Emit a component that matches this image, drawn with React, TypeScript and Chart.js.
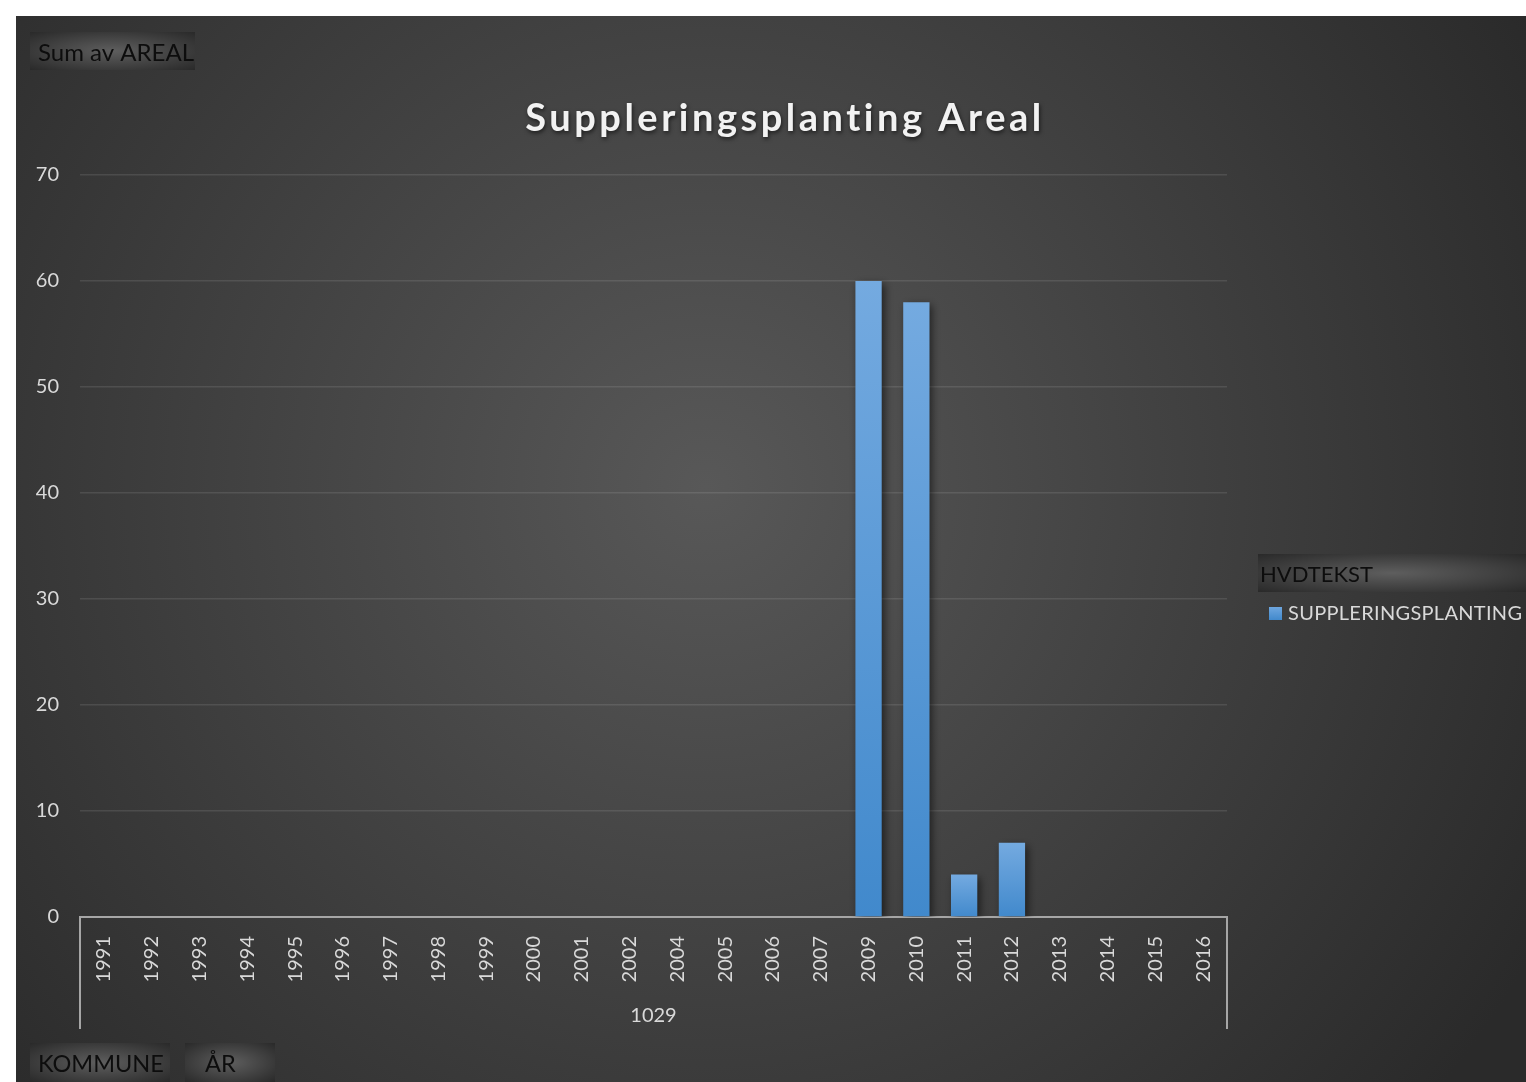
import React, { useEffect, useRef } from "react";
import { Chart, registerables } from "chart.js";
Chart.register(...registerables);

const years = ["1991","1992","1993","1994","1995","1996","1997","1998","1999","2000","2001","2002","2004","2005","2006","2007","2009","2010","2011","2012","2013","2014","2015","2016"];
const areal = [0,0,0,0,0,0,0,0,0,0,0,0,0,0,0,0,60,58,4,7,0,0,0,0];
const yTicks = [0,10,20,30,40,50,60,70];
const kommune = "1029";
const seriesName = "SUPPLERINGSPLANTING";
const chartTitle = "Suppleringsplanting Areal";
const valueField = "Sum av AREAL";
const axisFields = ["KOMMUNE", "ÅR"];
const legendField = "HVDTEKST";

const W = 1510;
const H = 1066;
const FONT = "Lato, 'Open Sans', sans-serif";

function fieldButton(ctx: CanvasRenderingContext2D, x: number, y: number, w: number, h: number, text: string, tx: number, size: number) {
  ctx.save();
  ctx.beginPath();
  ctx.rect(x, y, w, h);
  ctx.clip();
  const cx = x + w / 2, cy = y + h / 2;
  ctx.translate(cx, cy);
  ctx.scale(w / h, 1);
  const g = ctx.createRadialGradient(0, 0, 0, 0, 0, h * 0.75);
  g.addColorStop(0, "#5e5e5e");
  g.addColorStop(1, "#262626");
  ctx.fillStyle = g;
  ctx.fillRect(-h, -h, 2 * h, 2 * h);
  ctx.restore();
  ctx.save();
  ctx.fillStyle = "#0d0d0d";
  ctx.font = `${size}px ${FONT}`;
  ctx.textBaseline = "middle";
  ctx.textAlign = "left";
  ctx.fillText(text, tx, cy + 2);
  ctx.restore();
}

export default function App() {
  const ref = useRef<HTMLCanvasElement | null>(null);
  useEffect(() => {
    const canvas = ref.current!;
    const bgPlugin = {
      id: "bg",
      beforeDraw(chart: any) {
        const ctx = chart.ctx as CanvasRenderingContext2D;
        ctx.save();
        const g = ctx.createRadialGradient(690, 470, 0, 690, 470, 950);
        g.addColorStop(0, "#585858");
        g.addColorStop(1, "#2a2a2a");
        ctx.fillStyle = g;
        ctx.fillRect(0, 0, W, H);
        ctx.restore();
      },
      beforeDatasetsDraw(chart: any) {
        const ctx = chart.ctx as CanvasRenderingContext2D;
        ctx.save();
        ctx.shadowColor = "rgba(0,0,0,0.55)";
        ctx.shadowBlur = 8;
        ctx.shadowOffsetX = 3;
        ctx.shadowOffsetY = 3;
      },
      afterDatasetsDraw(chart: any) {
        chart.ctx.restore();
      },
      afterDraw(chart: any) {
        const ctx = chart.ctx as CanvasRenderingContext2D;
        const ca = chart.chartArea;
        // title
        ctx.save();
        ctx.fillStyle = "#f2f2f2";
        ctx.font = `bold 38px ${FONT}`;
        (ctx as any).letterSpacing = "3.5px";
        ctx.textAlign = "center";
        ctx.textBaseline = "alphabetic";
        ctx.shadowColor = "rgba(0,0,0,0.6)";
        ctx.shadowBlur = 4;
        ctx.shadowOffsetX = 1;
        ctx.shadowOffsetY = 2;
        ctx.fillText(chartTitle, 769, 115);
        ctx.restore();
        // multi-level axis boundaries
        ctx.save();
        ctx.strokeStyle = "#a6a6a6";
        ctx.lineWidth = 2;
        ctx.beginPath();
        ctx.moveTo(ca.left, ca.bottom);
        ctx.lineTo(ca.left, ca.bottom + 112);
        ctx.moveTo(ca.right, ca.bottom - 1);
        ctx.lineTo(ca.right, ca.bottom + 112);
        ctx.stroke();
        ctx.fillStyle = "#d9d9d9";
        ctx.font = `20px ${FONT}`;
        ctx.textAlign = "center";
        ctx.textBaseline = "middle";
        ctx.fillText(kommune, (ca.left + ca.right) / 2, ca.bottom + 99);
        ctx.restore();
        // field buttons
        fieldButton(ctx, 14, 16, 165, 38, valueField, 22, 24);
        fieldButton(ctx, 14, 1027, 140, 39, axisFields[0], 22, 23.5);
        fieldButton(ctx, 169, 1027, 90, 39, axisFields[1], 189, 23.5);
        fieldButton(ctx, 1242, 538, 268, 38, legendField, 1244, 22);
        // legend
        ctx.save();
        const lg = ctx.createLinearGradient(0, 591, 0, 604);
        lg.addColorStop(0, "#6ea6df");
        lg.addColorStop(1, "#4189cc");
        ctx.fillStyle = lg;
        ctx.fillRect(1253, 591, 13, 13);
        ctx.fillStyle = "#d9d9d9";
        ctx.font = `20px ${FONT}`;
        (ctx as any).letterSpacing = "0.3px";
        ctx.textAlign = "left";
        ctx.textBaseline = "middle";
        ctx.fillText(seriesName, 1272, 598);
        ctx.restore();
      },
    };

    const chart = new Chart(canvas, {
      type: "bar",
      data: {
        labels: years,
        datasets: [
          {
            label: seriesName,
            data: areal,
            backgroundColor: (c: any) => {
              const chartObj = c.chart;
              const ys = chartObj.scales?.y;
              if (!ys || c.raw == null) return "#5b9bd5";
              const top = ys.getPixelForValue(c.raw);
              const bot = ys.getPixelForValue(0);
              if (!isFinite(top) || !isFinite(bot) || top === bot) return "#5b9bd5";
              const g = chartObj.ctx.createLinearGradient(0, top, 0, bot);
              g.addColorStop(0, "#74aae0");
              g.addColorStop(1, "#4189cc");
              return g;
            },
            borderWidth: 0,
            barPercentage: 0.55,
            categoryPercentage: 1,
          },
        ],
      },
      options: {
        responsive: false,
        animation: false,
        layout: { padding: { left: 0, top: 159, right: 299, bottom: 0 } },
        plugins: { legend: { display: false }, title: { display: false }, tooltip: { enabled: false } },
        scales: {
          x: {
            afterFit: (s: any) => { s.height = 165; },
            grid: { display: false, drawTicks: false },
            border: { display: true, color: "#a6a6a6", width: 2 },
            ticks: {
              autoSkip: false,
              minRotation: 90,
              maxRotation: 90,
              padding: 19,
              color: "#d9d9d9",
              font: { family: FONT, size: 20 },
            },
          },
          y: {
            min: yTicks[0],
            max: yTicks[yTicks.length - 1],
            afterFit: (s: any) => { s.width = 64; },
            grid: { color: "rgba(255,255,255,0.1)", lineWidth: 1.5, drawTicks: false },
            border: { display: false },
            ticks: {
              stepSize: yTicks[1] - yTicks[0],
              padding: 21,
              color: "#d9d9d9",
              font: { family: FONT, size: 20 },
            },
          },
        },
      },
      plugins: [bgPlugin],
    } as any);
    return () => chart.destroy();
  }, []);
  return (
    <div style={{ position: "fixed", left: 16, top: 16, width: W, height: H }}>
      <canvas ref={ref} width={W} height={H} style={{ width: W, height: H, display: "block" }} />
    </div>
  );
}
